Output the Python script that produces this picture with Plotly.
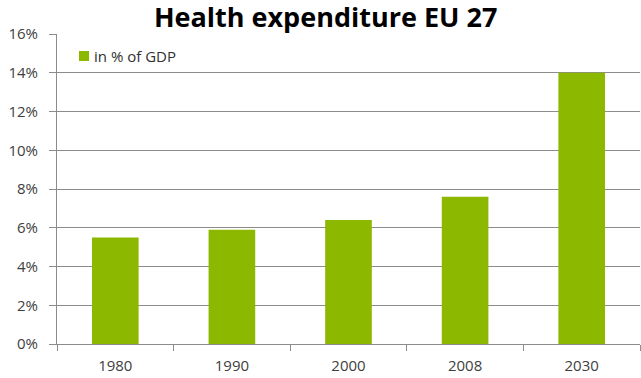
import plotly.graph_objects as go

# Health expenditure in the EU 27, share of GDP (%)
years = ["1980", "1990", "2000", "2008", "2030"]
share_of_gdp = [5.5, 5.9, 6.4, 7.6, 14.0]
y_ticks = [0, 2, 4, 6, 8, 10, 12, 14, 16]
series_name = "in % of GDP"

bar_color = "#8cb800"
grid_color = "#8c8c8c"
text_color = "#404040"

W, H = 641, 378

fig = go.Figure()
fig.add_trace(go.Bar(
    x=years,
    y=share_of_gdp,
    name=series_name,
    marker=dict(color=bar_color, line=dict(width=0)),
    width=0.4,
    showlegend=False,
))

# Compact legend key: small square swatch followed by the series name
fig.add_shape(
    type="rect", xref="paper", yref="paper",
    x0=(79 - 57) / (W - 58), x1=(89 - 57) / (W - 58),
    y0=(H - 34 - 61) / (H - 68), y1=(H - 34 - 51) / (H - 68),
    fillcolor=bar_color, line=dict(width=0),
)
fig.add_annotation(
    xref="paper", yref="paper",
    x=(92 - 57) / (W - 58), y=(H - 34 - 56) / (H - 68),
    xanchor="left", yanchor="middle",
    text=series_name, showarrow=False,
    font=dict(size=15, color="#303030"),
)

fig.update_layout(
    width=W,
    height=H,
    margin=dict(l=57, r=1, t=34, b=34),
    paper_bgcolor="white",
    plot_bgcolor="white",
    font=dict(family="Open Sans, sans-serif", size=15, color=text_color),
    title=dict(
        text="<b>Health expenditure EU 27</b>",
        font=dict(family="Open Sans, sans-serif", size=27, color="black"),
        x=0.508, xanchor="center",
        y=0.954, yanchor="middle",
    ),
    showlegend=False,
)

fig.update_xaxes(
    type="category",
    showline=True, linecolor=grid_color, linewidth=1,
    ticks="outside", tickson="boundaries", ticklen=6, tickcolor=grid_color,
    showgrid=False,
    ticklabelstandoff=8,
    tickfont=dict(size=15, color=text_color),
)
fig.update_yaxes(
    range=[0, 16],
    tickvals=y_ticks,
    ticktext=[f"{v}%" for v in y_ticks],
    showline=True, linecolor=grid_color, linewidth=1,
    ticks="outside", ticklen=7, tickcolor=grid_color,
    showgrid=True, gridcolor=grid_color, gridwidth=1,
    zeroline=False,
    ticklabelstandoff=8,
    tickfont=dict(size=15, color=text_color),
)

fig.write_html("out.html")
